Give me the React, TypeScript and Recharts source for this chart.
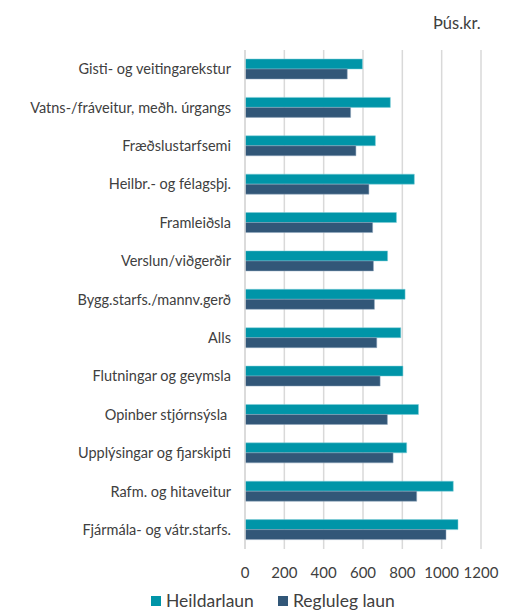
import { BarChart, Bar, XAxis, YAxis, CartesianGrid, Legend } from 'recharts'

const categories = [
  'Gisti- og veitingarekstur',
  'Vatns-/fráveitur, meðh. úrgangs',
  'Fræðslustarfsemi',
  'Heilbr.- og félagsþj.',
  'Framleiðsla',
  'Verslun/viðgerðir',
  'Bygg.starfs./mannv.gerð',
  'Alls',
  'Flutningar og geymsla',
  'Opinber stjórnsýsla\u00a0',
  'Upplýsingar og fjarskipti',
  'Rafm. og hitaveitur',
  'Fjármála- og vátr.starfs.',
]
const heildarlaun = [597, 739, 663, 861, 770, 725, 814, 792, 803, 882, 822, 1059, 1083]
const reglulegLaun = [520, 537, 564, 630, 649, 653, 658, 670, 687, 724, 753, 873, 1022]
const xTicks = [0, 200, 400, 600, 800, 1000, 1200]

const data = categories.map((name, i) => ({
  name,
  Heildarlaun: heildarlaun[i],
  'Regluleg laun': reglulegLaun[i],
}))

const FONT = 'Lato, "Open Sans", sans-serif'

const LegendContent = ({ payload }: any) => (
  <div style={{ display: 'flex', fontFamily: FONT, fontSize: 17.5, color: '#404040', lineHeight: '20px' }}>
    {(payload || []).map((entry: any) => (
      <div key={entry.value} style={{ display: 'flex', alignItems: 'center', marginRight: 24 }}>
        <span style={{ width: 10, height: 10, background: entry.color, display: 'inline-block', marginRight: 5 }} />
        <span>{entry.value}</span>
      </div>
    ))}
  </div>
)

export default function App() {
  return (
    <div style={{ position: 'relative', width: 504, height: 602 }}>
      <div
        style={{
          position: 'absolute',
          left: 425,
          top: 5,
          fontFamily: FONT,
          fontSize: 16.5,
          color: '#404040',
        }}
      >
        Þús.kr.
      </div>
      <BarChart
        width={504}
        height={602}
        data={data}
        layout="vertical"
        margin={{ top: 42, right: 31, bottom: 0, left: 0 }}
        barGap={0}
        barCategoryGap={0}
      >
        <CartesianGrid horizontal={false} stroke="#d9d9d9" strokeWidth={1.5} />
        <XAxis
          type="number"
          domain={[0, 1200]}
          ticks={xTicks}
          axisLine={false}
          tickLine={false}
          tickMargin={12}
          height={36}
          interval={0}
          tick={{ fill: '#404040', fontSize: 15, fontFamily: FONT }}
        />
        <YAxis
          type="category"
          dataKey="name"
          width={237}
          axisLine={{ stroke: '#d9d9d9', strokeWidth: 1.5 }}
          tickLine={false}
          tickMargin={8}
          interval={0}
          tick={{ fill: '#404040', fontSize: 14.5, fontFamily: FONT }}
        />
        <Legend
          verticalAlign="bottom"
          height={25}
          content={<LegendContent />}
          wrapperStyle={{ left: 143, width: 320, bottom: -6 }}
        />
        <Bar dataKey="Heildarlaun" fill="#0095a8" stroke="#7fcfd8" strokeWidth={0.5} barSize={10} isAnimationActive={false} />
        <Bar dataKey="Regluleg laun" fill="#325778" stroke="#8ea6bd" strokeWidth={0.5} barSize={10} isAnimationActive={false} />
      </BarChart>
    </div>
  )
}
